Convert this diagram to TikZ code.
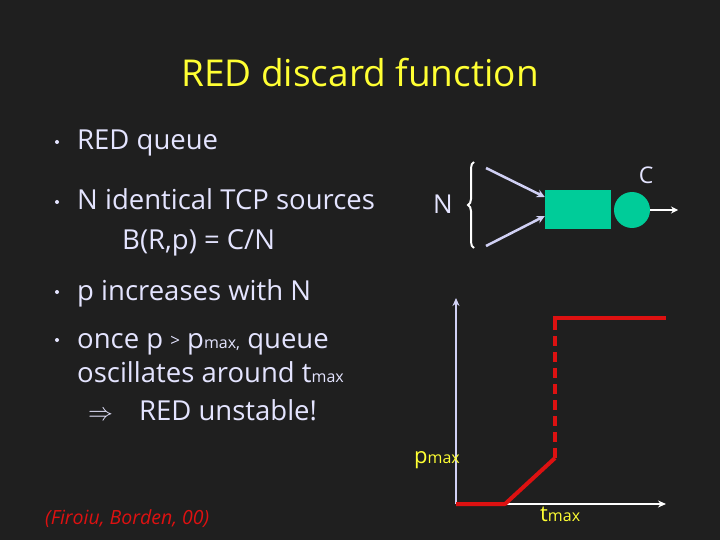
\documentclass[tikz,border=0pt]{standalone}
\usepackage{fontspec}
\setmainfont{Open Sans}
\usetikzlibrary{decorations.pathreplacing,arrows.meta}
\definecolor{bg}{HTML}{1F1F1F}
\definecolor{txt}{HTML}{E4E4FF}
\definecolor{ttl}{HTML}{FFFF33}
\definecolor{qgreen}{HTML}{00CC99}
\definecolor{redl}{HTML}{DD1111}
\definecolor{arr}{HTML}{D0D0F4}
\tikzset{
  body/.style={anchor=base west, text=txt, font=\fontsize{27.5}{30}\selectfont, inner sep=0pt},
  dot/.style={circle, fill=txt, inner sep=0pt, minimum size=4pt},
  lab/.style={text=ttl, inner sep=0pt, font=\fontsize{22}{24}\selectfont},
  redline/.style={draw=redl, line width=4pt},
  feed/.style={draw=arr, line width=2.5pt, -{Stealth[length=8pt,width=8pt]}},
}
\newcommand{\sbx}[1]{{\fontsize{16}{16}\selectfont #1}}
\begin{document}
\begin{tikzpicture}[x=1pt,y=-1pt]
\fill[bg] (0,0) rectangle (720,540);
\useasboundingbox (0,0) rectangle (720,540);
% title
\node[text=ttl, font=\fontsize{37}{40}\selectfont, inner sep=0pt, anchor=base] (title) at (360,87) {RED discard function};
% bullets
\node[dot] (d1) at (57,142) {};
\node[body] (b1) at (77,150) {RED queue};
\node[dot] (d2) at (57,202) {};
\node[body] (b2) at (77,210) {N identical TCP sources};
\node[body] (b2a) at (122,249) {B(R,p) = C/N};
\node[dot] (d3) at (57,292) {};
\node[body] (b3) at (77,300) {p increases with N};
\node[dot] (d4) at (57,340) {};
\node[body] (b4) at (77,348) {once p \raisebox{2pt}{\fontsize{17}{17}\selectfont >} p\sbx{max,} queue};
\node[body] (b4a) at (77,382) {oscillates around t\sbx{max}};
\node[body] (b4b) at (88,420) {$\Rightarrow$\hspace{26pt}RED unstable!};
\node[anchor=base west, text=redl, inner sep=0pt, font=\fontsize{19.5}{22}\selectfont\itshape] (cite) at (45,524) {(Firoiu, Borden, 00)};
% queue diagram
\node[text=txt, font=\fontsize{26}{28}\selectfont, inner sep=0pt] (N) at (443,204) {N};
\draw[white, line width=2pt, decorate, decoration={brace, amplitude=6pt}] (474,248) -- (474,162);
\node[draw=none, fill=qgreen, minimum width=66pt, minimum height=39pt, inner sep=0pt] (q) at (578,210) {};
\node[circle, fill=qgreen, minimum size=36pt, inner sep=0pt] (srv) at (632,210) {};
\coordinate (s1) at (486,168);
\coordinate (s2) at (486,246);
\draw[feed] (s1) -- (q.west |- 0,197);
\draw[feed] (s2) -- (q.west |- 0,216);
\coordinate (out) at (678,210);
\draw[white, line width=2pt, -{Stealth[length=7pt,width=7pt]}] (srv.east) -- (out);
\node[text=txt, font=\fontsize{23}{26}\selectfont, inner sep=0pt] (C) at (646,175) {C};
% graph
\coordinate (o) at (456,504);
\coordinate (ytop) at (456,298);
\coordinate (xend) at (666,504);
\draw[arr, line width=2pt, -{Stealth[length=8pt,width=7pt]}] (o) -- (ytop);
\draw[white, line width=2pt, -{Stealth[length=8pt,width=7pt]}] (o) -- (xend);
\coordinate (k1) at (505,504);
\coordinate (k2) at (555,458);
\coordinate (k3) at (555,318);
\coordinate (k4) at (666,318);
\draw[redline, line join=round] (o) -- (k1) -- (k2);
\draw[redline, dash pattern=on 10pt off 6pt] (k2) -- (k3);
\draw[redline] (553,318) -- (k4);
\node[lab, anchor=base west] (pmax) at (414,463) {p\sbx{max}};
\node[lab, anchor=base west] (tmax) at (540,521) {t\sbx{max}};
\end{tikzpicture}
\end{document}
